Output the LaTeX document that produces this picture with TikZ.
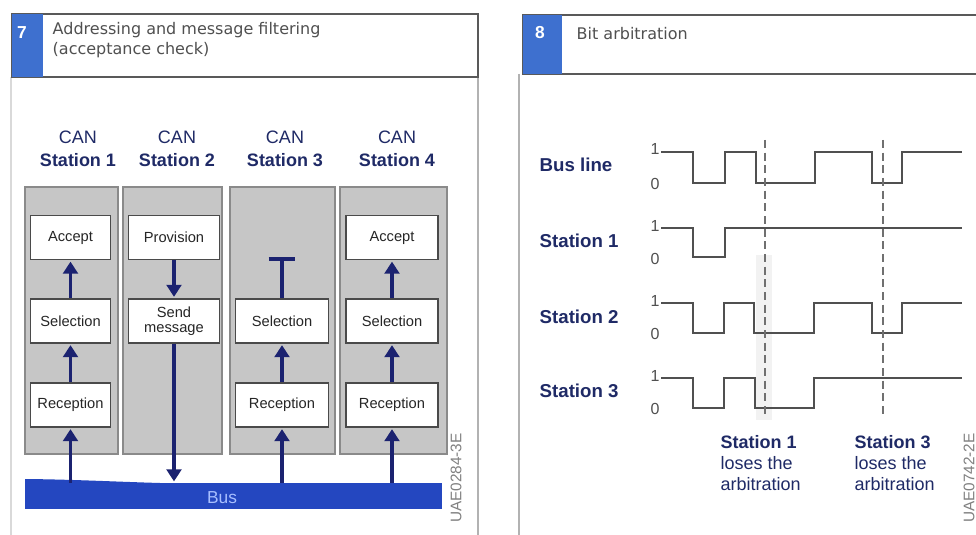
\documentclass[tikz,border=0pt]{standalone}
\usepackage{fontspec}
\setmainfont{Liberation Sans}
\newfontfamily\hdrfont{DejaVu Sans}
\usetikzlibrary{arrows.meta}
\definecolor{navy}{HTML}{1F2A66}
\definecolor{arrowc}{HTML}{1B2270}
\definecolor{panelc}{HTML}{C6C6C6}
\definecolor{paneledge}{HTML}{8A8A8A}
\definecolor{boxedge}{HTML}{4A4A4A}
\definecolor{busblue}{HTML}{2447C0}
\definecolor{bustext}{HTML}{A8BFFF}
\definecolor{hblue}{HTML}{3E70CF}
\definecolor{wavec}{HTML}{505050}
\definecolor{dashc}{HTML}{707070}
\definecolor{txtgray}{HTML}{505050}
\tikzset{
  panel/.style={draw=paneledge, line width=1.1pt, fill=panelc, inner sep=0pt, minimum height=200.25pt},
  fbox/.style={draw=boxedge, line width=1.2pt, fill=white, inner sep=0pt, minimum height=33pt, align=center,
     font=\fontsize{11}{11.5}\selectfont, text=black!85},
  arr/.style={draw=arrowc, line width=2.6pt, -{Triangle[width=11pt,length=9pt]}, shorten >=1pt},
  tline/.style={draw=arrowc, line width=2.6pt},
  coltitle/.style={align=center, text=navy, font=\fontsize{13.5}{17.25}\selectfont},
  rowlbl/.style={anchor=west, text=navy, font=\fontsize{14}{14}\selectfont\bfseries},
  lvl/.style={text=txtgray, font=\fontsize{12}{12}\selectfont, inner sep=0pt},
  wave/.style={draw=wavec, line width=1.2pt},
  dline/.style={draw=dashc, line width=1pt, dash pattern=on 6pt off 3.5pt},
  ann/.style={anchor=west, align=left, text=navy, font=\fontsize{13.5}{15.5}\selectfont},
  rotlbl/.style={rotate=90, text=gray, font=\fontsize{11.5}{11.5}\selectfont},
  hdrbox/.style={draw=gray!70!black, line width=1.2pt, fill=white, inner sep=0pt},
  hdrblue/.style={fill=hblue, inner sep=0pt},
  hdrnum/.style={text=white, font=\fontsize{13}{13}\selectfont\bfseries},
  hdrtxt/.style={anchor=west, align=left, text=txtgray, font=\hdrfont\fontsize{12}{15}\selectfont},
}
\begin{document}
\begin{tikzpicture}[x=0.75pt, y=-0.75pt]
\useasboundingbox (0,0) rectangle (976,535);
\fill[white] (0,0) rectangle (976,535);

% panel frames
\draw[gray!30, line width=1pt] (11,77) -- (11,535);
\draw[gray!60, line width=1.2pt] (478,77) -- (478,535);
\draw[gray!60, line width=1.2pt] (519,74) -- (519,535);

% headers
\node[hdrbox, minimum width=349.5pt, minimum height=47.25pt] (h7) at (245,45.5) {};
\node[hdrblue, minimum width=23.25pt, minimum height=47.25pt] (b7) at (27.5,45.5) {};
\node[hdrnum] (n7) at (22,33) {7};
\node[hdrtxt] (ht7) at (48,40) {Addressing and message filtering\\(acceptance check)};

\node[hdrbox, minimum width=346.5pt, minimum height=44.25pt] (h8) at (754,44.5) {};
\node[hdrblue, minimum width=29.25pt, minimum height=44.25pt] (b8) at (542.5,44.5) {};
\node[hdrnum] (n8) at (540,33) {8};
\node[hdrtxt] (ht8) at (572,34) {Bit arbitration};

% ---------- left diagram ----------
\node[coltitle] (t1) at (78,148.5) {CAN\\\textbf{Station 1}};
\node[coltitle] (t2) at (177,148.5) {CAN\\\textbf{Station 2}};
\node[coltitle] (t3) at (285,148.5) {CAN\\\textbf{Station 3}};
\node[coltitle] (t4) at (397,148.5) {CAN\\\textbf{Station 4}};

\node[panel, minimum width=69.75pt] (col1) at (71.5,320.5) {};
\node[panel, minimum width=74.25pt] (col2) at (172.5,320.5) {};
\node[panel, minimum width=78.75pt] (col3) at (282.5,320.5) {};
\node[panel, minimum width=80.25pt] (col4) at (393.5,320.5) {};

\node[fbox, minimum width=60pt] (acc1) at (70.5,237.5) {Accept};
\node[fbox, minimum width=60pt] (sel1) at (70.5,321) {Selection};
\node[fbox, minimum width=60pt] (rec1) at (70.5,405) {Reception};

\node[fbox, minimum width=68pt] (prov2) at (174,237.5) {Provision};
\node[fbox, minimum width=68pt] (send2) at (174,321) {Send\\message};

\node[fbox, minimum width=70pt] (sel3) at (282,321) {Selection};
\node[fbox, minimum width=70pt] (rec3) at (282,405) {Reception};
\coordinate (tbar3) at (282,259);

\node[fbox, minimum width=69pt] (acc4) at (392,237.5) {Accept};
\node[fbox, minimum width=69pt] (sel4) at (392,321) {Selection};
\node[fbox, minimum width=69pt] (rec4) at (392,405) {Reception};

\node[fill=busblue, inner sep=0pt, minimum width=312.75pt, minimum height=19.5pt] (bus) at (233.5,496) {};
\fill[busblue] (25,484) -- (25,479) .. controls (80,479.5) and (130,482.5) .. (180,483.5) -- (180,484) -- cycle;
\node[text=bustext, font=\fontsize{13}{13}\selectfont] (buslbl) at (222,498) {Bus};

\draw[arr] (rec1.north) -- (sel1.south);
\draw[arr] (sel1.north) -- (acc1.south);
\draw[arr] (rec1.south |- bus.north) -- (rec1.south);

\draw[arr] (prov2.south) -- (send2.north);
\draw[arr] (send2.south) -- (send2.south |- bus.north);

\draw[arr] (rec3.north) -- (sel3.south);
\draw[tline] (sel3.north) -- (tbar3);
\draw[tline] ([xshift=-10pt]tbar3) -- ([xshift=10pt]tbar3);
\draw[arr] (rec3.south |- bus.north) -- (rec3.south);

\draw[arr] (rec4.north) -- (sel4.south);
\draw[arr] (sel4.north) -- (acc4.south);
\draw[arr] (rec4.south |- bus.north) -- (rec4.south);

\node[rotlbl] (id1) at (456,478) {UAE0284-3E};

% ---------- right diagram ----------
\fill[gray!10] (756,255) rectangle (772,420);

\node[rowlbl] (r0) at (535,165) {Bus line};
\node[rowlbl] (r1) at (535,241) {Station 1};
\node[rowlbl] (r2) at (535,317) {Station 2};
\node[rowlbl] (r3) at (535,391) {Station 3};

\node[lvl] (r0a) at (655,149) {1};
\node[lvl] (r0b) at (655,184) {0};
\node[lvl] (r1a) at (655,226) {1};
\node[lvl] (r1b) at (655,259) {0};
\node[lvl] (r2a) at (655,301) {1};
\node[lvl] (r2b) at (655,334) {0};
\node[lvl] (r3a) at (655,376) {1};
\node[lvl] (r3b) at (655,409) {0};

\draw[wave] (661,152) -| (693,183) -| (725,152) -| (756,183) -| (815,152) -| (872,183) -| (902,152) -- (962,152);
\draw[wave] (661,228) -| (693,257) -| (725,228) -- (962,228);
\draw[wave] (661,303) -| (693,333) -| (724,303) -| (754,333) -| (814,303) -| (872,333) -| (902,303) -- (962,303);
\draw[wave] (661,378) -| (693,408) -| (724,378) -| (755,408) -| (814,378) -- (962,378);

\coordinate (d1a) at (765,140);
\coordinate (d1b) at (765,418);
\coordinate (d2a) at (883,140);
\coordinate (d2b) at (883,418);
\draw[dline] (d1a) -- (d1b);
\draw[dline] (d2a) -- (d2b);

\node[ann] (ann1) at (716,463) {\textbf{Station 1}\\loses the\\arbitration};
\node[ann] (ann3) at (850,463) {\textbf{Station 3}\\loses the\\arbitration};

\node[rotlbl] (id2) at (969,478) {UAE0742-2E};
\end{tikzpicture}
\end{document}
